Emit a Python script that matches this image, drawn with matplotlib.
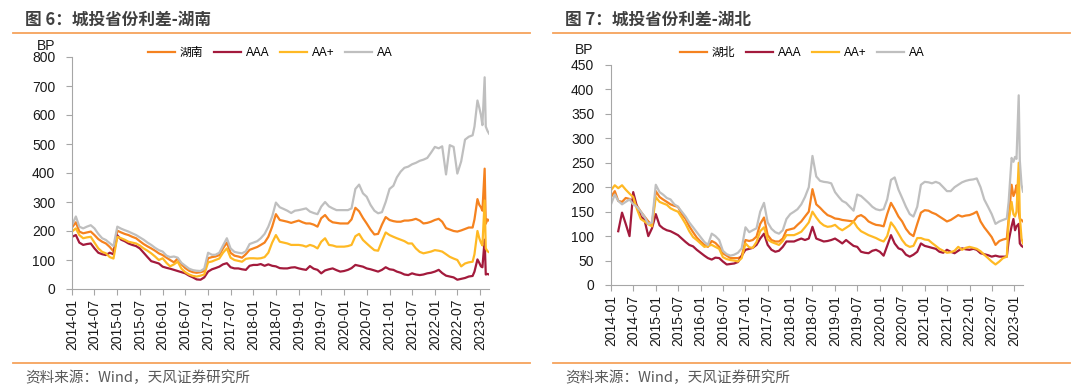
#plot Hunan / Hubei city-investment bond spreads (BP)
import matplotlib.pyplot as plt
import matplotlib.dates as mdates
from matplotlib.lines import Line2D
import numpy as np
import pandas as pd

plt.rcParams['font.family'] = ['Liberation Sans', 'Noto Sans CJK SC']

# monthly points 2014-01 .. 2022-10, then a denser tail for the 2022-23 spikes
months = pd.date_range('2014-01-01', '2022-10-01', freq='MS')
tail = pd.to_datetime(['2022-11-01', '2022-11-16', '2022-12-10', '2022-12-25', '2023-01-07',
                       '2023-01-19', '2023-02-06', '2023-02-15', '2023-03-01', '2023-03-13'])
dates = months.append(tail)

# ---- Hunan ----
hunan = [212, 230, 198, 192, 195, 198, 186, 172, 163, 157, 145, 130,
         201, 195, 190, 186, 180, 175, 165, 155, 147, 140, 132, 123,
         117, 108, 100, 92, 105, 85, 72, 63, 58, 56, 58, 62,
         106, 110, 112, 117, 140, 160, 125, 115, 112, 108, 120, 135,
         140, 145, 152, 160, 180, 215, 258, 238, 235, 232, 228, 232,
         236, 230, 226, 226, 222, 215, 244, 255, 238, 230, 228, 226,
         226, 226, 240, 280, 268, 245, 226, 205, 188, 190, 222, 248,
         238, 234, 232, 232, 236, 236, 238, 242, 236, 226, 228, 232,
         238, 242, 232, 210, 205, 200, 198, 202, 207, 212,
         212, 240, 310, 290, 282, 270, 415, 225, 240, 236]
hn_aaa = [180, 186, 160, 152, 155, 157, 140, 125, 120, 117, 125, 120,
          185, 170, 165, 157, 152, 148, 140, 125, 110, 96, 92, 88,
          77, 73, 70, 66, 62, 58, 54, 46, 40, 33, 32, 40,
          60, 68, 72, 77, 85, 89, 75, 71, 71, 68, 66, 80,
          83, 83, 86, 80, 85, 80, 78, 72, 71, 71, 74, 75,
          71, 68, 66, 79, 70, 66, 54, 64, 68, 71, 65, 60,
          62, 66, 72, 83, 80, 77, 71, 68, 64, 60, 66, 75,
          68, 66, 60, 56, 50, 48, 54, 50, 48, 50, 54, 56,
          60, 66, 55, 46, 43, 40, 32, 35, 38, 43,
          45, 60, 102, 90, 78, 75, 170, 50, 52, 50]
hn_aap = [198, 209, 186, 175, 178, 180, 160, 140, 128, 123, 110, 105,
          180, 175, 170, 163, 160, 157, 150, 140, 132, 123, 112, 100,
          106, 90, 78, 85, 94, 70, 58, 50, 45, 43, 46, 50,
          92, 95, 100, 105, 125, 140, 108, 100, 97, 94, 104, 106,
          106, 105, 106, 110, 125, 160, 186, 163, 160, 157, 152, 152,
          152, 150, 146, 152, 148, 140, 163, 175, 152, 150, 146, 146,
          146, 148, 152, 182, 190, 169, 157, 145, 134, 132, 165, 195,
          186, 180, 175, 170, 165, 157, 157, 140, 128, 123, 126, 129,
          134, 132, 129, 120, 111, 105, 100, 78, 88, 92,
          94, 120, 200, 175, 160, 150, 305, 140, 130, 127]
hn_aa = [220, 250, 215, 209, 215, 220, 209, 190, 175, 169, 158, 148,
         215, 208, 203, 198, 192, 186, 178, 170, 160, 152, 142, 134,
         129, 115, 110, 112, 108, 90, 80, 70, 65, 63, 62, 70,
         125, 118, 118, 125, 150, 175, 140, 128, 125, 123, 130, 155,
         160, 165, 175, 190, 215, 250, 298, 282, 276, 270, 262, 270,
         272, 275, 278, 267, 262, 258, 284, 300, 285, 278, 272, 272,
         272, 272, 278, 345, 360, 330, 318, 290, 270, 261, 265, 300,
         345, 356, 385, 405, 418, 422, 430, 435, 442, 446, 452, 470,
         490, 485, 492, 395, 496, 490, 398, 440, 515, 525,
         530, 560, 650, 625, 600, 565, 730, 560, 545, 536]

# ---- Hubei ----
hubei = [180, 192, 172, 170, 178, 176, 170, 162, 150, 140, 130, 123,
         192, 180, 175, 170, 165, 162, 160, 145, 135, 120, 108, 97,
         89, 82, 78, 90, 86, 78, 65, 60, 55, 55, 55, 58,
         92, 90, 92, 99, 125, 138, 102, 92, 89, 89, 95, 112,
         114, 116, 123, 130, 140, 150, 196, 165, 158, 150, 143, 140,
         136, 135, 133, 132, 131, 130, 140, 143, 138, 130, 126, 123,
         122, 120, 145, 168, 155, 140, 130, 115, 105, 100, 125, 148,
         153, 152, 148, 145, 140, 135, 130, 133, 138, 143, 140, 142,
         143, 146, 150, 130, 118, 108, 98, 82, 90, 93,
         95, 135, 205, 182, 190, 204, 150, 135, 133, 130]
hb_aaa = [np.nan, np.nan, 110, 148, 125, 100, 190, 160, 140, 133, 100, 116,
          145, 122, 116, 112, 110, 106, 102, 95, 88, 82, 79, 72,
          66, 60, 55, 52, 56, 55, 48, 42, 43, 44, 47, 60,
          72, 74, 76, 82, 95, 105, 82, 72, 68, 70, 78, 89,
          89, 89, 92, 95, 92, 95, 119, 95, 92, 89, 90, 92,
          95, 90, 85, 92, 86, 80, 78, 68, 66, 65, 70, 72,
          68, 60, 80, 102, 85, 75, 72, 62, 58, 62, 68, 85,
          80, 78, 76, 74, 68, 66, 72, 68, 65, 70, 75, 73,
          72, 74, 72, 65, 63, 61, 58, 60, 58, 58,
          58, 90, 120, 135, 112, 120, 125, 85, 80, 78]
hb_aap = [194, 204, 198, 204, 195, 187, 180, 155, 135, 130, 124, 120,
          180, 170, 167, 164, 157, 153, 150, 138, 125, 110, 98, 92,
          85, 78, 80, 82, 78, 74, 57, 53, 51, 50, 48, 55,
          85, 77, 76, 88, 110, 118, 93, 88, 85, 82, 90, 102,
          102, 102, 105, 109, 118, 128, 150, 138, 128, 122, 119, 120,
          123, 116, 112, 117, 122, 130, 118, 110, 106, 102, 99, 96,
          92, 89, 100, 128, 118, 105, 92, 82, 78, 80, 96, 96,
          93, 92, 86, 80, 74, 70, 66, 67, 70, 78, 72, 76,
          78, 76, 74, 69, 62, 55, 48, 42, 48, 55,
          58, 130, 170, 145, 140, 150, 250, 140, 95, 85]
hb_aa = [165, 185, 172, 165, 170, 175, 165, 160, 150, 140, 125, 128,
         205, 190, 185, 178, 175, 165, 160, 150, 140, 128, 118, 108,
         98, 88, 82, 105, 100, 92, 70, 63, 60, 62, 66, 75,
         118, 108, 112, 116, 150, 168, 128, 115, 108, 105, 112, 135,
         145, 150, 155, 165, 180, 200, 264, 222, 213, 211, 210, 208,
         190, 180, 172, 168, 160, 152, 185, 182, 175, 168, 160, 155,
         153, 155, 175, 215, 220, 195, 178, 160, 145, 140, 160, 205,
         211, 210, 208, 211, 208, 200, 192, 192, 200, 205, 210, 213,
         215, 216, 218, 200, 175, 160, 145, 125, 130, 133,
         136, 170, 260, 252, 262, 258, 388, 255, 205, 191]

colors = ['#F5821F', '#A31A3C', '#FFB924', '#BFBFBF']
ticks = pd.date_range('2014-01-01', '2023-01-01', freq='6MS')

W, H = 1080, 392
fig = plt.figure(figsize=(W / 100, H / 100), dpi=100)


def panel(rect, series, names, ymax, ystep, title, tx, line_x, bp_xy, leg_xy):
    ax = fig.add_axes(rect)
    for s, name, c in zip(series, names, colors):
        ax.plot(dates, s, color=c, linewidth=1.6, label=name)
    ax.set_xlim(dates[0], dates[-1])
    ax.set_ylim(0, ymax)
    ax.set_yticks(np.arange(0, ymax + 1, ystep))
    ax.set_xticks(ticks)
    ax.xaxis.set_major_formatter(mdates.DateFormatter('%Y-%m'))
    for lab in ax.get_xticklabels():
        lab.set_rotation(90)
    for sp in ['top', 'right']:
        ax.spines[sp].set_visible(False)
    for sp in ['left', 'bottom']:
        ax.spines[sp].set_color('#A6A6A6')
    ax.tick_params(axis='y', colors='#A6A6A6', labelcolor='#1A1A1A', labelsize=10, length=4, pad=8)
    ax.tick_params(axis='x', colors='#A6A6A6', labelcolor='#1A1A1A', labelsize=10, length=4, pad=3)
    ax.legend(loc='center', bbox_to_anchor=leg_xy, ncol=4, frameon=False, fontsize=8.5,
              handlelength=2.3, handletextpad=0.4, columnspacing=0.9)
    fig.text(bp_xy[0] / W, 1 - bp_xy[1] / H, 'BP', fontsize=10, color='#1A1A1A', va='center')
    # header / footer
    fig.text(tx / W, 1 - 20 / H, title, fontsize=12, fontweight='bold', color='#404040',
             family=['Noto Sans CJK SC'], va='center')
    fig.add_artist(Line2D([line_x[0] / W, line_x[1] / W], [1 - 33 / H] * 2, color='#F6A25C', linewidth=1.3))
    fig.add_artist(Line2D([line_x[0] / W, line_x[1] / W], [1 - 363 / H] * 2, color='#F6A25C', linewidth=1.3))
    fig.text(tx / W, 1 - 378 / H, '资料来源：Wind，天风证券研究所', fontsize=10.5, color='#595959',
             family=['Noto Sans CJK SC'], va='center')
    return ax


panel([72 / W, 1 - 289 / H, 417 / W, 232 / H], [hunan, hn_aaa, hn_aap, hn_aa],
      ['湖南', 'AAA', 'AA+', 'AA'], 800, 100, '图 6：城投省份利差-湖南', 25,
      (13, 530), (37, 46), (0.475, 1.017))
panel([611 / W, 1 - 285 / H, 412 / W, 220 / H], [hubei, hb_aaa, hb_aap, hb_aa],
      ['湖北', 'AAA', 'AA+', 'AA'], 450, 50, '图 7：城投省份利差-湖北', 565,
      (553, 1070), (575, 50), (0.464, 1.055))

fig.savefig('out.png', dpi=100)
